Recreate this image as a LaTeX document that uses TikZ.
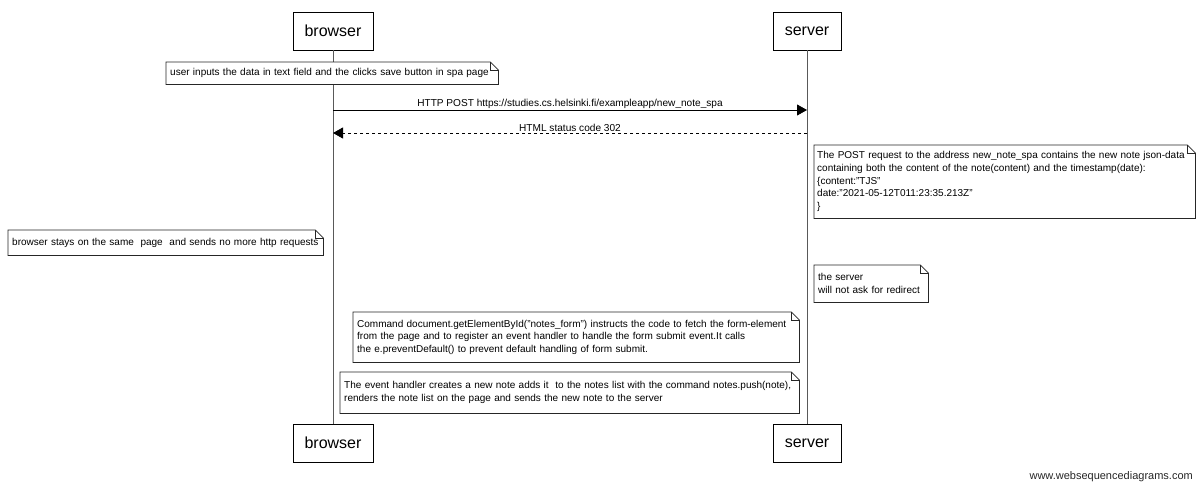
\documentclass[tikz,border=0pt]{standalone}
\usepackage{fontspec}
\setmainfont{Liberation Sans}
\usepackage{tikz}
\usetikzlibrary{arrows.meta}
\usetikzlibrary{positioning}
\tikzset{
  Actor/.style={
    rectangle, draw=black, line width=0.8pt,
    minimum height=38pt, inner sep=0pt,
    font=\fontsize{16}{18}\selectfont,
  },
  Note/.style={
    rectangle, anchor=north west, inner xsep=4pt, inner ysep=0pt,
    fill=white, align=left, font=\fontsize{10}{12.7}\selectfont,
  },
  NoteLine/.style={draw=black!85, line width=0.7pt},
  Life/.style={draw=black!65, line width=1pt},
  Msg/.style={-{Triangle[length=10pt,width=11pt]}, draw=black, line width=0.8pt},
  MsgText/.style={font=\fontsize{10.1}{12}\selectfont, inner sep=1.5pt},
}
\newcommand{\DogEar}[1]{%
  \draw[NoteLine] (#1.north west) -- ([xshift=-8pt]#1.north east) -- ([yshift=-8pt]#1.north east) -- (#1.south east) -- (#1.south west) -- cycle;
  \draw[NoteLine] ([xshift=-8pt]#1.north east) -- ([xshift=-8pt,yshift=-8pt]#1.north east) -- ([yshift=-8pt]#1.north east);}

\begin{document}
\begin{tikzpicture}[x=1pt,y=-1pt]
\useasboundingbox (0,0) rectangle (1200,488);
% participants
\node[Actor, minimum width=80pt] (bTop) at (333,31) {browser};
\node[Actor, minimum width=68pt] (sTop) at (807,31) {server};
\node[Actor, minimum width=80pt] (bBot) at (333,443) {browser};
\node[Actor, minimum width=68pt] (sBot) at (807,443) {server};
\draw[Life] (bTop) -- (bBot);
\draw[Life] (sTop) -- (sBot);

\node[Note, minimum width=332pt, minimum height=22pt, text width=324pt] (nSave) at (166,62) {\mbox{user inputs the data in text field and the clicks save button in spa page}};
\DogEar{nSave}

% messages
\coordinate (bPost) at (333,110);
\coordinate (sPost) at (807,110);
\coordinate (sRed) at (807,133);
\coordinate (bRed) at (333,133);
\draw[Msg] (bPost) -- node[above, MsgText] {HTTP POST https://studies.cs.helsinki.fi/exampleapp/new\_note\_spa} (sPost);
\draw[Msg, dashed] (sRed) -- node[above, MsgText] {HTML status code 302} (bRed);

\node[Note, minimum width=381pt, minimum height=73pt, text width=375pt, inner xsep=3pt] (nJson) at (814,145) {\mbox{The POST request to the address new\_note\_spa contains the new note json-data}\\\mbox{containing both the content of the note(content) and the timestamp(date):}\\\{content:"TJS"\\date:"2021-05-12T011:23:35.213Z"\\\}};
\DogEar{nJson}

\node[Note, minimum width=315pt, minimum height=25pt, text width=307pt] (nStay) at (8,230) {\mbox{browser stays on the same\ \ page\ \ and sends no more http requests}};
\DogEar{nStay}

\node[Note, minimum width=114pt, minimum height=37pt, text width=106pt] (nRedir) at (814,265) {the server\\\mbox{will not ask for redirect}};
\DogEar{nRedir}

\node[Note, minimum width=446pt, minimum height=50pt, text width=438pt] (nForm) at (353,312) {\mbox{Command document.getElementById("notes\_form") instructs the code to fetch the form-element}\\\mbox{from the page and to register an event handler to handle the form submit event.It calls}\\\mbox{the e.preventDefault() to prevent default handling of form submit.}};
\DogEar{nForm}

\node[Note, minimum width=459pt, minimum height=41pt, text width=451pt] (nPush) at (340,372) {\mbox{The event handler creates a new note adds it\ \ to the notes list with the command notes.push(note),}\\\mbox{renders the note list on the page and sends the new note to the server}};
\DogEar{nPush}

\node[anchor=east, inner sep=0pt, font=\fontsize{11}{13}\selectfont, text=black!85] (site) at (1193,477) {www.websequencediagrams.com};
\end{tikzpicture}
\end{document}
